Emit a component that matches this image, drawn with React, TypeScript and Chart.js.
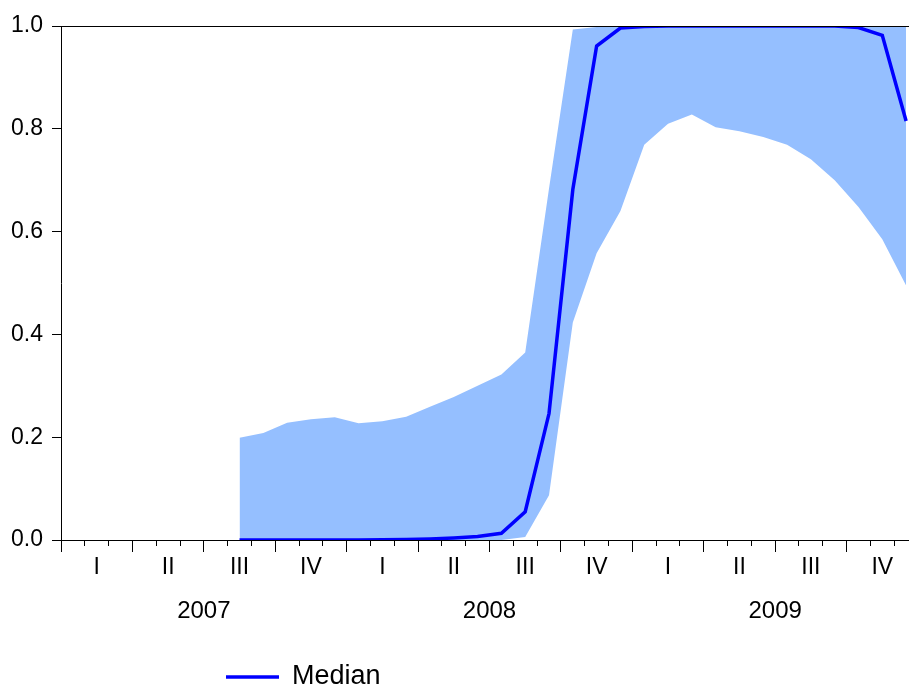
import React, { useEffect, useRef } from 'react';
import { Chart, registerables } from 'chart.js';

Chart.register(...registerables);

// Monthly observations, Jan 2007 .. Dec 2009
const months: string[] = [
  '2007M01', '2007M02', '2007M03', '2007M04', '2007M05', '2007M06',
  '2007M07', '2007M08', '2007M09', '2007M10', '2007M11', '2007M12',
  '2008M01', '2008M02', '2008M03', '2008M04', '2008M05', '2008M06',
  '2008M07', '2008M08', '2008M09', '2008M10', '2008M11', '2008M12',
  '2009M01', '2009M02', '2009M03', '2009M04', '2009M05', '2009M06',
  '2009M07', '2009M08', '2009M09', '2009M10', '2009M11', '2009M12',
];

const upperBand: (number | null)[] = [
  null, null, null, null, null, null, null,
  0.199, 0.208, 0.228, 0.235, 0.239,
  0.227, 0.231, 0.240, 0.259, 0.278, 0.300,
  0.322, 0.365, 0.684, 0.993, 0.998, 0.999,
  1.0, 1.0, 1.0, 1.0, 1.0, 1.0,
  1.0, 1.0, 1.0, 1.0, 1.0, 1.0,
];

const lowerBand: (number | null)[] = [
  null, null, null, null, null, null, null,
  0.0, 0.0, 0.0, 0.0, 0.0,
  0.0, 0.0, 0.0, 0.0, 0.0, 0.0,
  0.0, 0.006, 0.087, 0.423, 0.558, 0.640,
  0.769, 0.810, 0.828, 0.803, 0.795, 0.784,
  0.769, 0.741, 0.700, 0.648, 0.585, 0.495,
];

const median: (number | null)[] = [
  null, null, null, null, null, null, null,
  0.0, 0.0, 0.0, 0.0, 0.0,
  0.0, 0.0005, 0.001, 0.002, 0.004, 0.007,
  0.013, 0.055, 0.246, 0.682, 0.961, 0.996,
  0.999, 1.0, 1.0, 1.0, 1.0, 1.0,
  1.0, 1.0, 1.0, 0.997, 0.982, 0.815,
];

const quarterLabels: string[] = ['I', 'II', 'III', 'IV'];
const yearLabels: string[] = ['2007', '2008', '2009'];
const yTickValues: number[] = [0, 0.2, 0.4, 0.6, 0.8, 1.0];

const FONT = '"Liberation Sans", Arial, Helvetica, sans-serif';
const BAND_COLOR = 'rgb(149,191,255)';
const LINE_COLOR = '#0000FF';

const X_MIN = -0.5;
const X_MAX = months.length - 0.5;

const toPoints = (arr: (number | null)[]) => arr.map((v, i) => ({ x: i, y: v }));

const legendPlugin = {
  id: 'bottomLegend',
  afterDraw(chart: any) {
    const ds = chart.data.datasets[2];
    const ctx = chart.ctx as CanvasRenderingContext2D;
    const y = 677;
    ctx.save();
    ctx.strokeStyle = ds.borderColor;
    ctx.lineWidth = ds.borderWidth;
    ctx.beginPath();
    ctx.moveTo(226, y);
    ctx.lineTo(279, y);
    ctx.stroke();
    ctx.font = `27px ${FONT}`;
    ctx.fillStyle = '#000';
    ctx.textAlign = 'left';
    ctx.textBaseline = 'middle';
    ctx.fillText(ds.label, 292, y);
    ctx.restore();
  },
};

export default function App() {
  const canvasRef = useRef<HTMLCanvasElement | null>(null);

  useEffect(() => {
    const canvas = canvasRef.current;
    if (!canvas) return;

    const monthBoundaries = months.map((_, i) => i - 0.5).concat([X_MAX]);
    const quarterBoundaries = monthBoundaries.filter((_, i) => i % 3 === 0);
    const quarterCenters: number[] = [];
    for (let q = 0; q < months.length / 3; q++) quarterCenters.push(q * 3 + 1);
    const yearCenters = yearLabels.map((_, k) => k * 12 + 5.5);

    const baseX = { type: 'linear' as const, min: X_MIN, max: X_MAX, position: 'bottom' as const };

    const chart = new Chart(canvas, {
      type: 'line',
      data: {
        datasets: [
          {
            label: 'Upper',
            data: toPoints(upperBand),
            borderWidth: 0,
            borderColor: BAND_COLOR,
            backgroundColor: BAND_COLOR,
            pointRadius: 0,
            fill: '+1',
            tension: 0,
            clip: 0,
            order: 2,
          },
          {
            label: 'Lower',
            data: toPoints(lowerBand),
            borderWidth: 0,
            borderColor: BAND_COLOR,
            backgroundColor: BAND_COLOR,
            pointRadius: 0,
            fill: false,
            tension: 0,
            clip: 0,
            order: 2,
          },
          {
            label: 'Median',
            data: toPoints(median),
            borderWidth: 3.5,
            borderColor: LINE_COLOR,
            backgroundColor: LINE_COLOR,
            pointRadius: 0,
            fill: false,
            tension: 0,
            clip: 0,
            order: 0,
          },
        ],
      },
      options: {
        animation: false,
        responsive: false,
        devicePixelRatio: 1,
        events: [],
        layout: { padding: { top: 26, right: 22, bottom: 51, left: 0 } },
        plugins: {
          legend: { display: false },
          tooltip: { enabled: false },
        },
        scales: {
          xTop: {
            ...baseX,
            position: 'top',
            ticks: { display: false },
            grid: { display: false, drawTicks: false },
            border: { display: true, color: '#000', width: 1, z: 1 },
            afterFit: (s: any) => { s.height = 0; },
          },
          xMinor: {
            ...baseX,
            weight: 0,
            ticks: { display: false },
            grid: { display: true, drawOnChartArea: false, drawTicks: true, tickLength: 6, color: '#000', lineWidth: 1 },
            border: { display: false },
            afterBuildTicks: (s: any) => { s.ticks = monthBoundaries.map((v) => ({ value: v })); },
            afterFit: (s: any) => { s.height = 0; },
          },
          xMajor: {
            ...baseX,
            weight: 0,
            ticks: { display: false },
            grid: { display: true, drawOnChartArea: false, drawTicks: true, tickLength: 12, color: '#000', lineWidth: 1 },
            border: { display: false },
            afterBuildTicks: (s: any) => { s.ticks = quarterBoundaries.map((v) => ({ value: v })); },
            afterFit: (s: any) => { s.height = 0; },
          },
          x: {
            ...baseX,
            weight: 1,
            grid: { display: false, drawTicks: false },
            border: { display: true, color: '#000', width: 1, z: 1 },
            ticks: {
              autoSkip: false,
              maxRotation: 0,
              padding: 14,
              color: '#000',
              font: { family: FONT, size: 23 },
              callback: (v: any) => quarterLabels[Math.round((Number(v) - 1) / 3) % 4],
            },
            afterBuildTicks: (s: any) => { s.ticks = quarterCenters.map((v) => ({ value: v })); },
            afterFit: (s: any) => { s.height = 40; },
          },
          xYear: {
            ...baseX,
            weight: 2,
            grid: { display: false, drawTicks: false },
            border: { display: false },
            ticks: {
              autoSkip: false,
              maxRotation: 0,
              padding: 17,
              color: '#000',
              font: { family: FONT, size: 24 },
              callback: (v: any) => yearLabels[Math.round((Number(v) - 5.5) / 12)],
            },
            afterBuildTicks: (s: any) => { s.ticks = yearCenters.map((v) => ({ value: v })); },
            afterFit: (s: any) => { s.height = 60; },
          },
          y: {
            type: 'linear',
            position: 'left',
            min: 0,
            max: 1,
            grid: { display: true, drawOnChartArea: false, drawTicks: true, tickLength: 9, color: '#000', lineWidth: 1 },
            border: { display: true, color: '#000', width: 1, z: 1 },
            ticks: {
              padding: 9,
              color: '#000',
              font: { family: FONT, size: 23 },
              callback: (v: any) => Number(v).toFixed(1),
            },
            afterBuildTicks: (s: any) => { s.ticks = yTickValues.map((v) => ({ value: v })); },
            afterFit: (s: any) => { s.width = 61; },
          },
        },
      } as any,
      plugins: [legendPlugin],
    });

    return () => chart.destroy();
  }, []);

  return (
    <div
      style={{
        position: 'fixed',
        left: 0,
        top: 0,
        width: 909,
        height: 691,
        overflow: 'hidden',
        background: '#fff',
      }}
    >
      <canvas ref={canvasRef} width={940} height={691} style={{ display: 'block' }} />
    </div>
  );
}
